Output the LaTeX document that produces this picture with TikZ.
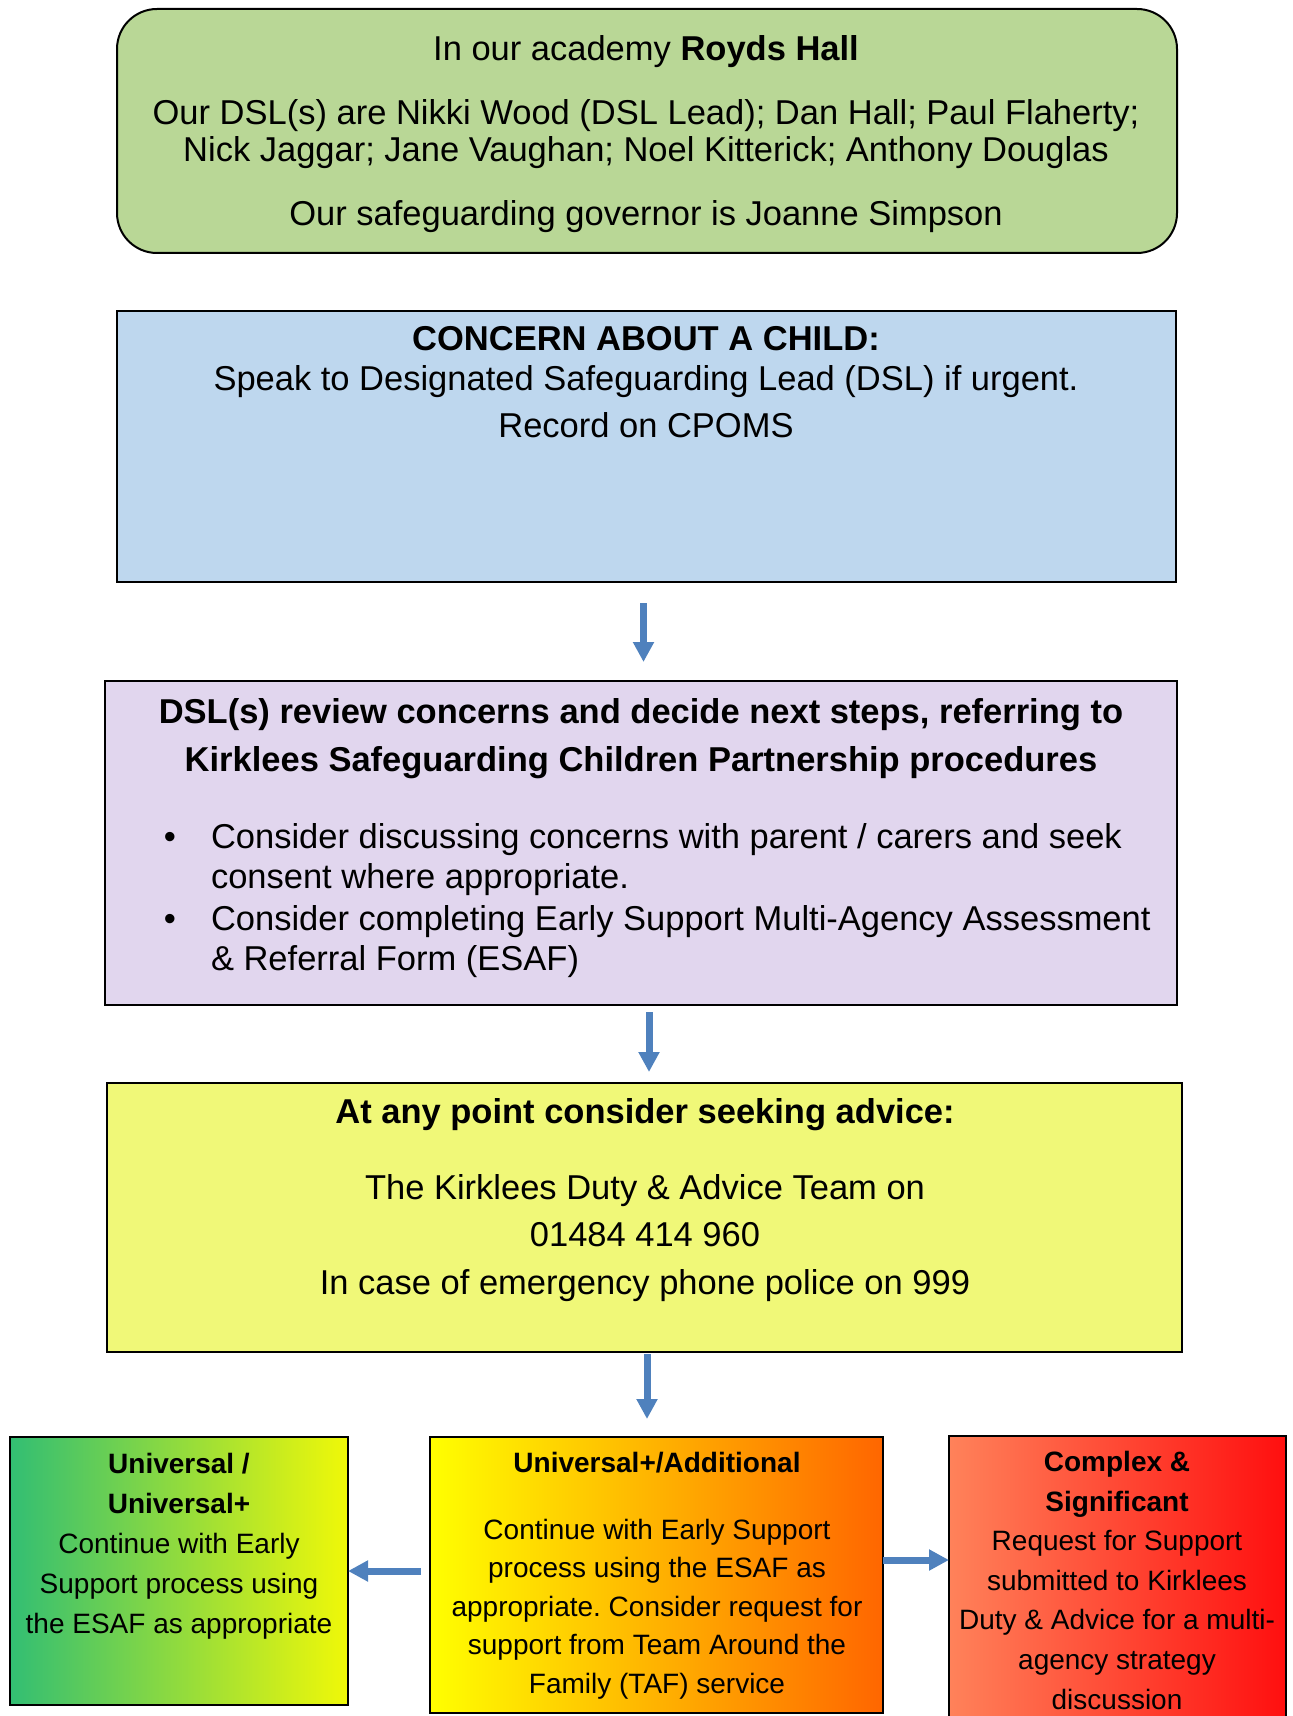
\documentclass[tikz,border=0pt]{standalone}
\usepackage{fontspec}
\setmainfont{Liberation Sans}
\usepackage{tikz}
\usetikzlibrary{arrows.meta}
\definecolor{royGreen}{RGB}{185,215,150}
\definecolor{concernBlue}{RGB}{190,215,238}
\definecolor{reviewPurple}{RGB}{225,214,238}
\definecolor{adviceYellow}{RGB}{240,248,120}
\definecolor{arrowBlue}{RGB}{79,129,189}
\definecolor{univGreen}{RGB}{50,190,115}
\definecolor{univYellow}{RGB}{240,248,8}
\definecolor{addlYellow}{RGB}{255,255,0}
\definecolor{addlOrange}{RGB}{255,102,0}
\definecolor{cmplxSalmon}{RGB}{255,130,90}
\definecolor{cmplxRed}{RGB}{255,15,15}
\newcommand{\bigtxt}[1]{\fontsize{17.25}{#1}\selectfont}
\newcommand{\smalltxt}[1]{\fontsize{14}{#1}\selectfont}
\frenchspacing

\begin{document}
\begin{tikzpicture}[x=0.5pt, y=-0.5pt]%
  \tikzset{normal arrow/.style={draw,-{Triangle[width=10pt,length=10pt]},line width=3.5pt,arrowBlue}}
  \tikzstyle{every node}=[inner sep=0pt, outer sep=0pt]
  \tikzstyle{box}=[draw=black, line width=1pt, rectangle]
  \tikzstyle{txt}=[anchor=base, align=center]
  \clip (0,0) rectangle (1293,1716);

  % boxes, text placed by the baseline of its last line
  \node[box, fill=royGreen, rounded corners=20pt, minimum width=530pt, minimum height=122pt] at (647,131) (roy) {};
  \node[txt, font=\bigtxt{18.5}] at (646,61) (royhead) {In our academy \textbf{Royds Hall}};
  \node[txt, font=\bigtxt{18.5}] at (646,162) (roydsl) {Our DSL(s) are Nikki Wood (DSL Lead); Dan Hall; Paul Flaherty;\\Nick Jaggar; Jane Vaughan; Noel Kitterick; Anthony Douglas};
  \node[txt, font=\bigtxt{18.5}] at (646,226) (roygov) {Our safeguarding governor is Joanne Simpson};

  \node[box, fill=concernBlue, minimum width=529.5pt, minimum height=135.5pt] at (646.5,446.5) (concern) {};
  \node[txt, font=\bigtxt{20}] at (646,438) (concerntxt) {\textbf{CONCERN ABOUT A CHILD:}\\Speak to Designated Safeguarding Lead (DSL) if urgent.\\[3.5pt]Record on CPOMS};

  \node[box, fill=reviewPurple, minimum width=536pt, minimum height=162pt] at (641,843) (review) {};
  \node[txt, font=\bigtxt{24}] at (641,771) (reviewhead) {\textbf{DSL(s) review concerns and decide next steps, referring to}\\\textbf{Kirklees Safeguarding Children Partnership procedures}};
  \node[anchor=base, font=\bigtxt{20}] at (170,848) (dotA) {\textbullet};
  \node[anchor=base west, align=left, font=\bigtxt{20}] at (211,888) (itemA) {Consider discussing concerns with parent / carers and seek\\consent where appropriate.};
  \node[anchor=base, font=\bigtxt{20}] at (170,930) (dotB) {\textbullet};
  \node[anchor=base west, align=left, font=\bigtxt{20}] at (211,970) (itemB) {Consider completing Early Support Multi-Agency Assessment\\\& Referral Form (ESAF)};

  \node[box, fill=adviceYellow, minimum width=537.5pt, minimum height=134.5pt] at (644.5,1217.5) (advice) {};
  \node[txt, font=\bigtxt{20}] at (645,1123) (advicehead) {\textbf{At any point consider seeking advice:}};
  \node[txt, font=\bigtxt{23.75}] at (645,1294) (advicetxt) {The Kirklees Duty \& Advice Team on\\01484 414 960\\In case of emergency phone police on 999};

  \node[box, left color=univGreen, right color=univYellow, minimum width=169pt, minimum height=134pt] at (179,1571) (univ) {};
  \node[txt, font=\smalltxt{20}] at (179,1633) (univtxt) {\textbf{Universal /}\\\textbf{Universal+}\\Continue with Early\\Support process using\\the ESAF as appropriate};

  \node[box, left color=addlYellow, right color=addlOrange, minimum width=226.5pt, minimum height=138pt] at (656.5,1575) (addl) {};
  \node[txt, font=\smalltxt{19.25}] at (657,1472) (addlhead) {\textbf{Universal+/Additional}};
  \node[txt, font=\smalltxt{19.25}] at (657,1693) (addltxt) {Continue with Early Support\\process using the ESAF as\\appropriate. Consider request for\\support from Team Around the\\Family (TAF) service};

  \node[box, left color=cmplxSalmon, right color=cmplxRed, minimum width=168.5pt, minimum height=152pt] at (1117.5,1588) (cmplx) {};
  \node[txt, font=\smalltxt{19.8}] at (1117,1709) (cmplxtxt) {\textbf{Complex \&}\\\textbf{Significant}\\Request for Support\\submitted to Kirklees\\Duty \& Advice for a multi-\\agency strategy\\discussion};

  \draw[normal arrow, shorten <=10.5pt, shorten >=9.5pt] ([xshift=-1.5pt]concern.south) -- ([xshift=-1.5pt]concern.south |- review.north);
  \draw[normal arrow, shorten <=3.5pt, shorten >=5.5pt] ([xshift=4pt]review.south) -- ([xshift=4pt]review.south |- advice.north);
  \draw[normal arrow, shorten <=1pt, shorten >=9pt] ([xshift=1.25pt]advice.south) -- ([xshift=1.25pt]advice.south |- addl.north);
  \draw[normal arrow, shorten <=4.5pt] (univ.east -| addl.west) -- (univ.east);
  \draw[normal arrow] ([yshift=7.5pt]addl.east) -- ([yshift=7.5pt]addl.east -| cmplx.west);
\end{tikzpicture}
\end{document}
